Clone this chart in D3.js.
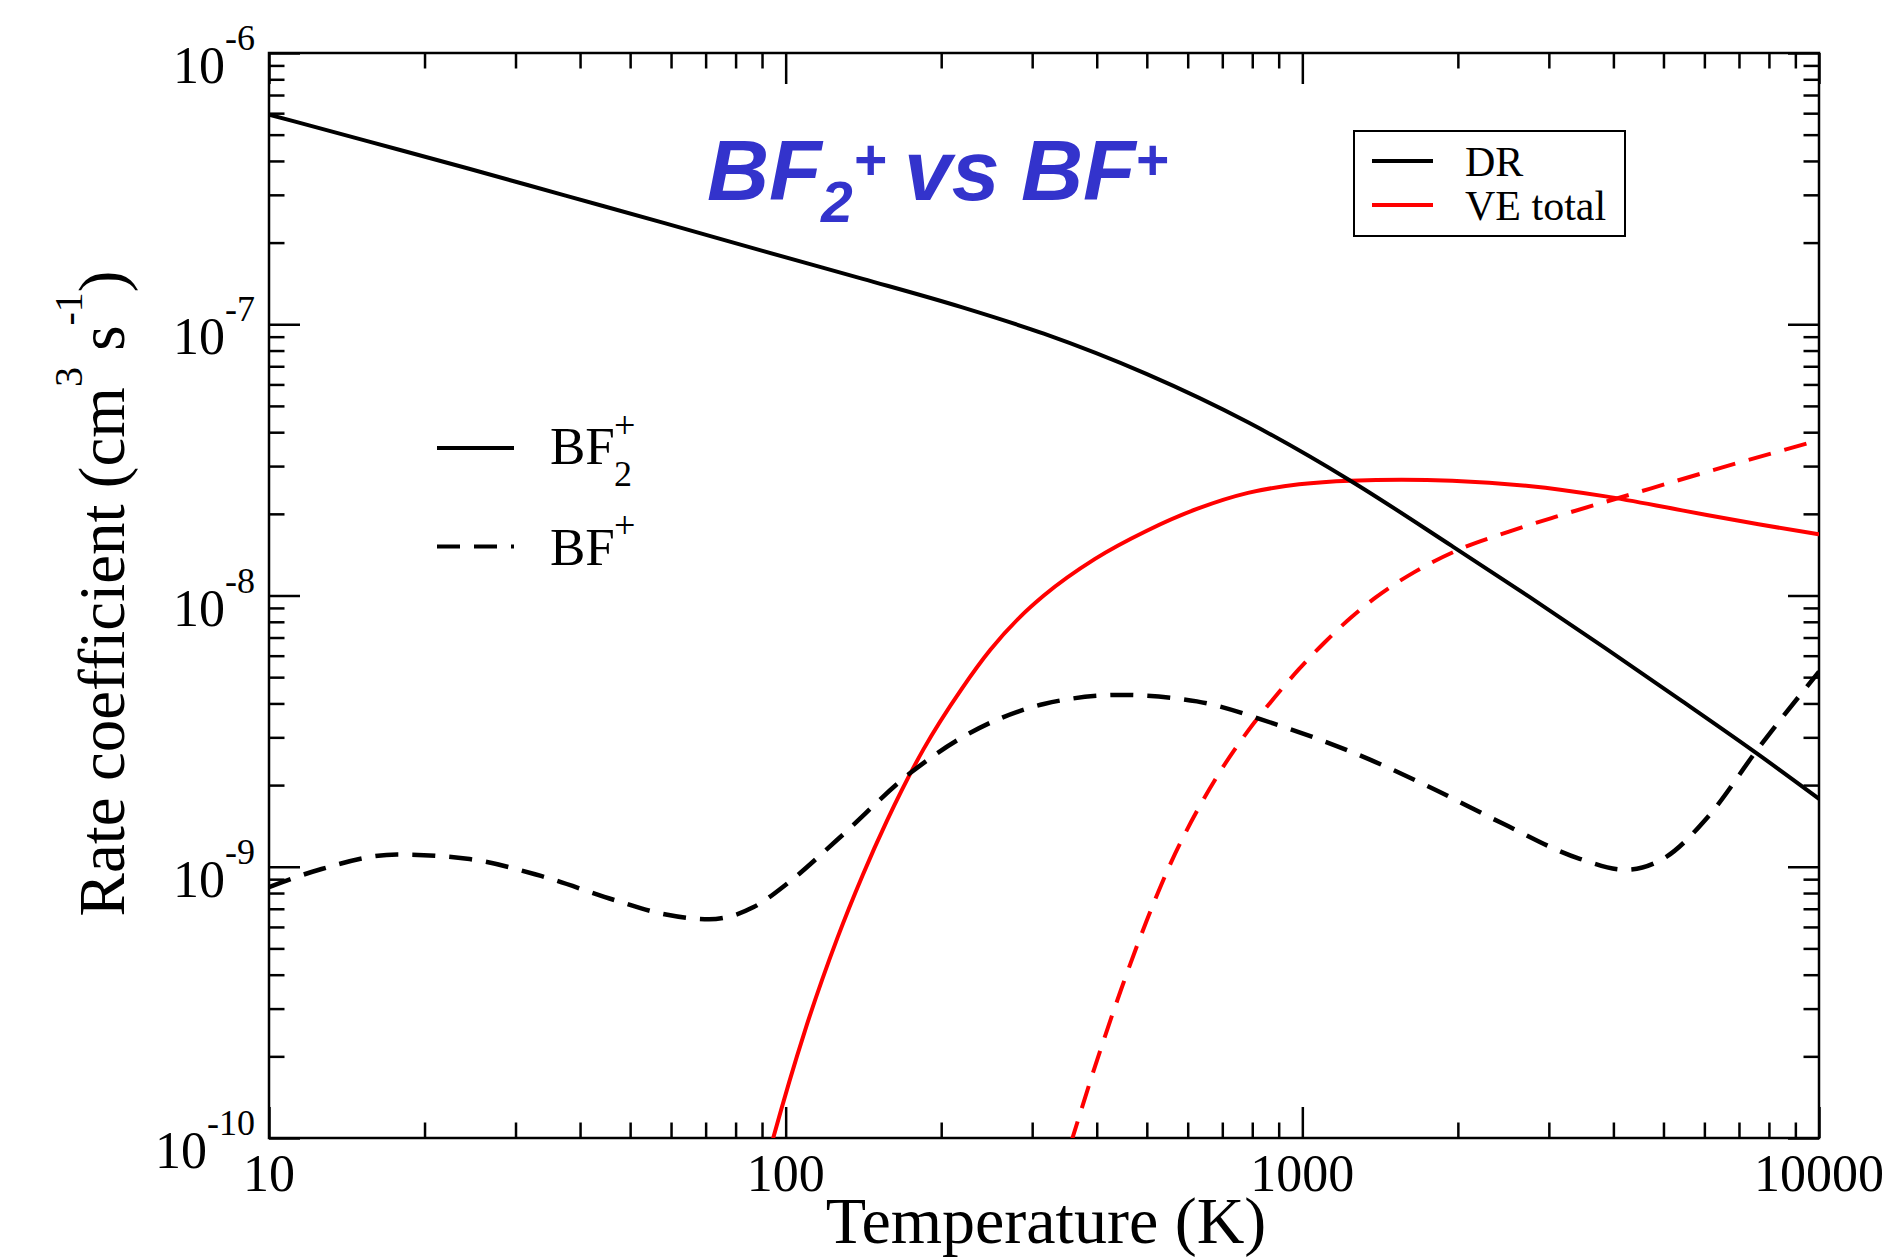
<!DOCTYPE html>
<html>
<head>
<meta charset="utf-8">
<script src="https://cdn.jsdelivr.net/npm/d3@7"></script>
<style>
  html, body { margin: 0; padding: 0; background: #fff; }
  svg { display: block; }
</style>
</head>
<body>
<svg id="chart" width="1884" height="1258"></svg>
<script>
// ---------------- DATA ----------------
const xDomain = [10, 10000];
const yDomain = [1e-10, 1e-6];
const xTickLabels = ["10", "100", "1000", "10000"];
const xMajor = [10, 100, 1000, 10000];
const yMajor = [1e-10, 1e-9, 1e-8, 1e-7, 1e-6];
const yTickExponents = ["-10", "-9", "-8", "-7", "-6"];

// DR, BF2+ (solid black)
const tempDR_BF2 = [10, 15.5, 24.2, 37.5, 58.3, 90.6, 141, 219, 316, 499, 785, 1239, 1950, 2742, 3864, 5433, 7638, 10000];
const rateDR_BF2 = [5.93e-7, 4.73e-7, 3.76e-7, 2.98e-7, 2.36e-7, 1.86e-7, 1.47e-7, 1.156e-7, 9.23e-8, 6.56e-8, 4.35e-8, 2.65e-8, 1.52e-8, 9.93e-9, 6.38e-9, 4.08e-9, 2.59e-9, 1.78e-9];

// DR, BF+ (dashed black)
const tempDR_BF = [10, 12.5, 17.7, 24.2, 33.6, 46.8, 58.3, 71.1, 86.7, 101, 126, 175, 219, 316, 445, 625, 881, 1239, 1742, 2449, 3443, 4227, 5070, 6081, 7638, 10000];
const rateDR_BF = [8.41e-10, 9.75e-10, 1.11e-9, 1.07e-9, 9.25e-10, 7.52e-10, 6.68e-10, 6.40e-10, 7.10e-10, 8.71e-10, 1.26e-9, 2.23e-9, 2.99e-9, 3.98e-9, 4.30e-9, 4.07e-9, 3.37e-9, 2.66e-9, 1.99e-9, 1.44e-9, 1.07e-9, 9.75e-10, 1.09e-9, 1.52e-9, 2.74e-9, 5.24e-9];

// VE total, BF2+ (solid red)
const tempVE_BF2 = [89.9, 94.6, 109, 126, 141, 157, 185, 219, 249, 285, 316, 397, 499, 627, 785, 986, 1239, 1556, 1950, 2742, 3864, 5433, 7638, 10000];
const rateVE_BF2 = [6.98e-11, 1.0e-10, 2.49e-10, 5.48e-10, 9.33e-10, 1.476e-9, 2.72e-9, 4.52e-9, 6.31e-9, 8.38e-9, 1.0e-8, 1.365e-8, 1.73e-8, 2.09e-8, 2.39e-8, 2.57e-8, 2.65e-8, 2.67e-8, 2.65e-8, 2.535e-8, 2.32e-8, 2.06e-8, 1.83e-8, 1.68e-8];

// VE total, BF+ (dashed red)
const tempVE_BF = [339, 359, 397, 445, 499, 558, 627, 701, 785, 881, 986, 1104, 1239, 1387, 1660, 2042, 2512, 3076, 4325, 6081, 10000];
const rateVE_BF = [7.08e-11, 1.0e-10, 1.837e-10, 3.49e-10, 6.28e-10, 1.045e-9, 1.62e-9, 2.32e-9, 3.17e-9, 4.18e-9, 5.36e-9, 6.71e-9, 8.26e-9, 9.84e-9, 1.23e-8, 1.496e-8, 1.72e-8, 1.945e-8, 2.36e-8, 2.86e-8, 3.74e-8];

const seriesNames = ["DR", "VE total"];

// ---------------- LAYOUT ----------------
const L = 269, R = 1819, T = 53, B = 1138;
const serif = "'Liberation Serif', 'Times New Roman', serif";
const sans = "'Liberation Sans', Arial, sans-serif";
const titleColor = "#3333cc";

const svg = d3.select("#chart");
svg.append("rect").attr("width", 1884).attr("height", 1258).attr("fill", "#fff");

const x = d3.scaleLog().domain(xDomain).range([L, R]);
const y = d3.scaleLog().domain(yDomain).range([B, T]);

svg.append("defs").append("clipPath").attr("id", "plotclip")
  .append("rect").attr("x", L).attr("y", T).attr("width", R - L).attr("height", B - T);

// ---------------- AXES / TICKS ----------------
const xMinor = x.ticks().filter(v => !xMajor.some(m => Math.abs(m - v) < 1e-9));
const yMinor = y.ticks().filter(v => !yMajor.some(m => Math.abs(m - v) / m < 1e-6));
const majLen = 31, minLen = 15.5;

function styleAxis(g) {
  g.select(".domain").remove();
  g.selectAll("line").attr("stroke", "#000").attr("stroke-width", 2.5);
  g.selectAll("text").remove();
}

// bottom
svg.append("g").attr("transform", `translate(0,${B})`)
  .call(d3.axisBottom(x).tickValues(xMajor).tickSize(-majLen).tickFormat("")).call(styleAxis);
svg.append("g").attr("transform", `translate(0,${B})`)
  .call(d3.axisBottom(x).tickValues(xMinor).tickSize(-minLen).tickFormat("")).call(styleAxis);
// top
svg.append("g").attr("transform", `translate(0,${T})`)
  .call(d3.axisTop(x).tickValues(xMajor).tickSize(-majLen).tickFormat("")).call(styleAxis);
svg.append("g").attr("transform", `translate(0,${T})`)
  .call(d3.axisTop(x).tickValues(xMinor).tickSize(-minLen).tickFormat("")).call(styleAxis);
// left
svg.append("g").attr("transform", `translate(${L},0)`)
  .call(d3.axisLeft(y).tickValues(yMajor).tickSize(-majLen).tickFormat("")).call(styleAxis);
svg.append("g").attr("transform", `translate(${L},0)`)
  .call(d3.axisLeft(y).tickValues(yMinor).tickSize(-minLen).tickFormat("")).call(styleAxis);
// right
svg.append("g").attr("transform", `translate(${R},0)`)
  .call(d3.axisRight(y).tickValues(yMajor).tickSize(-majLen).tickFormat("")).call(styleAxis);
svg.append("g").attr("transform", `translate(${R},0)`)
  .call(d3.axisRight(y).tickValues(yMinor).tickSize(-minLen).tickFormat("")).call(styleAxis);

// frame
svg.append("rect").attr("x", L).attr("y", T).attr("width", R - L).attr("height", B - T)
  .attr("fill", "none").attr("stroke", "#000").attr("stroke-width", 2.5);

// x tick labels
svg.append("g").selectAll("text").data(xMajor).join("text")
  .attr("x", d => x(d)).attr("y", B + 53)
  .attr("text-anchor", "middle")
  .attr("font-family", serif).attr("font-size", 52)
  .text((d, i) => xTickLabels[i]);

// y tick labels
const yl = svg.append("g").selectAll("text").data(yMajor).join("text")
  .attr("x", 255).attr("y", d => y(d) + 30)
  .attr("text-anchor", "end")
  .attr("font-family", serif).attr("font-size", 52);
yl.append("tspan").text("10");
yl.append("tspan").attr("dy", -33).attr("font-size", 36).text((d, i) => yTickExponents[i]);

// axis titles
svg.append("text").attr("x", (L + R) / 2 + 2).attr("y", 1243)
  .attr("text-anchor", "middle").attr("font-family", serif).attr("font-size", 66)
  .text("Temperature (K)");

const ylab = svg.append("text")
  .attr("transform", `translate(124,${(T + B) / 2 - 2}) rotate(-90)`)
  .attr("text-anchor", "middle").attr("font-family", serif).attr("font-size", 65);
ylab.append("tspan").text("Rate coefficient (cm");
ylab.append("tspan").attr("dy", -42).attr("font-size", 40).text("3");
ylab.append("tspan").attr("dy", 42).text(" s");
ylab.append("tspan").attr("dy", -42).attr("font-size", 40).text("-1");
ylab.append("tspan").attr("dy", 42).text(")");

// ---------------- CURVES ----------------
const line = d3.line().x(d => x(d[0])).y(d => y(d[1])).curve(d3.curveMonotoneX);
const zip = (a, b) => a.map((v, i) => [v, b[i]]);
const curves = svg.append("g").attr("clip-path", "url(#plotclip)");
const dash = "23,14";

curves.append("path").datum(zip(tempVE_BF, rateVE_BF)).attr("d", line)
  .attr("fill", "none").attr("stroke", "#ff0000").attr("stroke-width", 4).attr("stroke-dasharray", dash);
curves.append("path").datum(zip(tempVE_BF2, rateVE_BF2)).attr("d", line)
  .attr("fill", "none").attr("stroke", "#ff0000").attr("stroke-width", 4);
curves.append("path").datum(zip(tempDR_BF, rateDR_BF)).attr("d", line)
  .attr("fill", "none").attr("stroke", "#000").attr("stroke-width", 4.5).attr("stroke-dasharray", dash);
curves.append("path").datum(zip(tempDR_BF2, rateDR_BF2)).attr("d", line)
  .attr("fill", "none").attr("stroke", "#000").attr("stroke-width", 4);

// ---------------- LEGENDS ----------------
// species legend (no box)
svg.append("line").attr("x1", 437).attr("x2", 514).attr("y1", 448).attr("y2", 448)
  .attr("stroke", "#000").attr("stroke-width", 4);
const sp1 = svg.append("text").attr("font-family", serif).attr("font-size", 53);
sp1.append("tspan").attr("x", 550).attr("y", 464).text("BF");
sp1.append("tspan").attr("x", 614).attr("y", 438).attr("font-size", 38).text("+");
sp1.append("tspan").attr("x", 614).attr("y", 486).attr("font-size", 36).text("2");

svg.append("line").attr("x1", 437).attr("x2", 514).attr("y1", 546.5).attr("y2", 546.5)
  .attr("stroke", "#000").attr("stroke-width", 4).attr("stroke-dasharray", dash);
const sp2 = svg.append("text").attr("font-family", serif).attr("font-size", 53);
sp2.append("tspan").attr("x", 550).attr("y", 565).text("BF");
sp2.append("tspan").attr("x", 614).attr("y", 538).attr("font-size", 38).text("+");

// process legend (boxed)
svg.append("rect").attr("x", 1354).attr("y", 131).attr("width", 271).attr("height", 105)
  .attr("fill", "#fff").attr("stroke", "#000").attr("stroke-width", 2);
const legColors = ["#000", "#ff0000"];
const legY = [161, 205];
seriesNames.forEach((name, i) => {
  svg.append("line").attr("x1", 1372).attr("x2", 1433).attr("y1", legY[i]).attr("y2", legY[i])
    .attr("stroke", legColors[i]).attr("stroke-width", 4);
  svg.append("text").attr("x", 1465).attr("y", legY[i] + 14.5)
    .attr("font-family", serif).attr("font-size", 42).text(name);
});

// ---------------- TITLE ----------------
const title = svg.append("text").attr("fill", titleColor)
  .attr("font-family", sans).attr("font-weight", "bold").attr("font-style", "italic")
  .attr("font-size", 86);
title.append("tspan").attr("x", 707).attr("y", 200).text("BF");
title.append("tspan").attr("x", 821).attr("y", 222).attr("font-size", 57).text("2");
title.append("tspan").attr("x", 853).attr("y", 180).attr("font-size", 57).text("+");
title.append("tspan").attr("x", 904).attr("y", 200).text("vs");
title.append("tspan").attr("x", 1021).attr("y", 200).text("BF");
title.append("tspan").attr("x", 1135).attr("y", 180).attr("font-size", 57).text("+");
</script>
</body>
</html>
